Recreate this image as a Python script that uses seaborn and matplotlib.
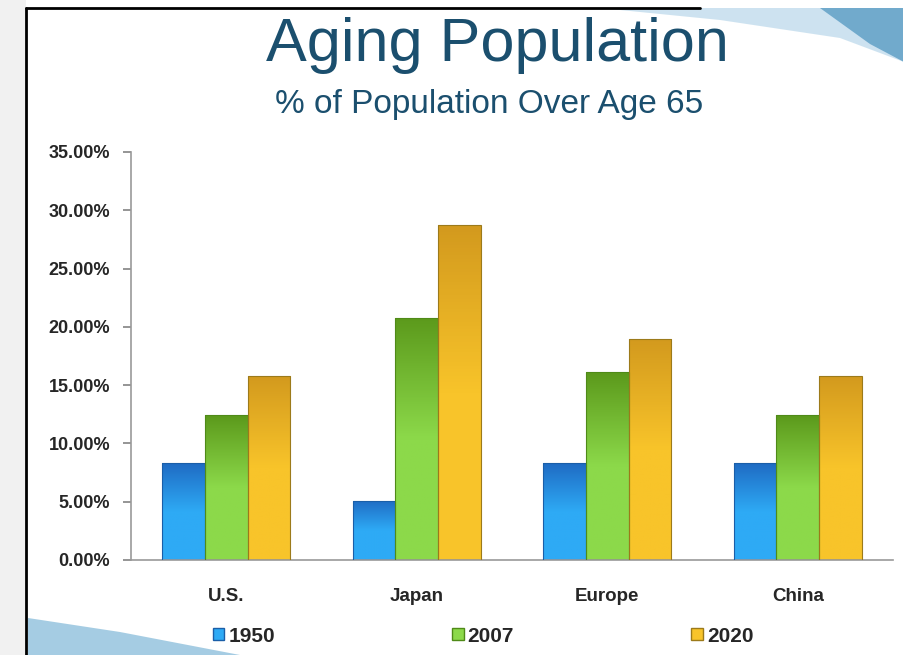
import numpy as np
import pandas as pd
import matplotlib
matplotlib.use("Agg")
import matplotlib.pyplot as plt
from matplotlib.patches import Polygon, Patch
from matplotlib.colors import LinearSegmentedColormap
import seaborn as sns

regions = ["U.S.", "Japan", "Europe", "China"]
years = ["1950", "2007", "2020"]
pct_1950 = [8.3, 5.1, 8.3, 8.3]
pct_2007 = [12.4, 20.8, 16.1, 12.4]
pct_2020 = [15.8, 28.7, 19.0, 15.8]

df = pd.DataFrame({
    "region": regions * 3,
    "year": [y for y in years for _ in regions],
    "pct": pct_1950 + pct_2007 + pct_2020,
})

# top colour / bottom colour for each series
grad = {
    "1950": ("#1f6cc4", "#2eaaf5"),
    "2007": ("#5c9a1c", "#8cd94a"),
    "2020": ("#d39a1e", "#f8c42a"),
}
edge = {"1950": "#1a5ea8", "2007": "#4f8a18", "2020": "#9c7a1a"}

sns.set_theme(style="white")
plt.rcParams["font.family"] = ["Liberation Sans", "DejaVu Sans"]

fig = plt.figure(figsize=(9.04, 6.55), dpi=100)
fig.patch.set_facecolor("white")

# slide decoration
fig.patches.append(plt.Rectangle((0, 0), 26 / 904, 1, transform=fig.transFigure,
                                 facecolor="#f1f1f1", edgecolor="none", zorder=0))
fig.patches.append(Polygon([(600 / 904, 1 - 8 / 655), (1, 1 - 8 / 655), (1, 1 - 62 / 655),
                            (840 / 904, 1 - 38 / 655), (720 / 904, 1 - 20 / 655)],
                           closed=True, transform=fig.transFigure,
                           facecolor="#b9d7ea", edgecolor="none", alpha=0.7, zorder=0))
fig.patches.append(Polygon([(820 / 904, 1 - 8 / 655), (1, 1 - 8 / 655), (1, 1 - 62 / 655),
                            (870 / 904, 1 - 44 / 655)],
                           closed=True, transform=fig.transFigure,
                           facecolor="#5a9cc4", edgecolor="none", alpha=0.8, zorder=0))
fig.patches.append(Polygon([(28 / 904, 1 - 618 / 655), (120 / 904, 1 - 632 / 655),
                            (240 / 904, 0), (28 / 904, 0)],
                           closed=True, transform=fig.transFigure,
                           facecolor="#8fc0dc", edgecolor="none", alpha=0.8, zorder=0))
fig.add_artist(plt.Line2D([26 / 904, 26 / 904], [0, 1 - 8 / 655], transform=fig.transFigure,
                          color="black", lw=2))
fig.add_artist(plt.Line2D([26 / 904, 700 / 904], [1 - 8 / 655, 1 - 8 / 655],
                          transform=fig.transFigure, color="black", lw=2))

ax = fig.add_axes([131 / 904, 1 - 560 / 655, (893 - 131) / 904, (560 - 152) / 655])
ax.set_facecolor("none")

sns.barplot(data=df, x="region", y="pct", hue="year", hue_order=years,
            order=regions, width=0.67, gap=0, ax=ax, legend=False,
            palette=[grad[y][1] for y in years], saturation=1)

# paint vertical gradients into each bar
for container, yr in zip(ax.containers, years):
    cmap = LinearSegmentedColormap.from_list(yr, [grad[yr][1], grad[yr][1], grad[yr][0]])
    for bar in container:
        bar.set_edgecolor(edge[yr])
        bar.set_linewidth(0.8)
        x0, y0 = bar.get_x(), bar.get_y()
        w, h = bar.get_width(), bar.get_height()
        img = ax.imshow(np.linspace(0, 1, 100).reshape(-1, 1), cmap=cmap, aspect="auto",
                        extent=(x0, x0 + w, y0, y0 + h), origin="lower", zorder=2)
        img.set_clip_path(bar)
        bar.set_zorder(3)
        bar.set_facecolor("none")

ax.set_xlim(-0.5, 3.5)
ax.set_ylim(0, 35)
ax.set_yticks(np.arange(0, 36, 5))
ax.set_yticklabels([f"{v:.2f}%" for v in np.arange(0, 36, 5)], fontsize=13, fontweight="bold")
ax.set_xticks(range(4))
ax.set_xticklabels(regions, fontsize=13.5, fontweight="bold")
ax.set_xticks(np.arange(-0.5, 4, 1), minor=True)
ax.tick_params(axis="x", which="major", length=0, pad=20)
ax.tick_params(axis="x", which="minor", length=6, color="#888888", direction="out")
ax.tick_params(axis="y", length=6, color="#888888", direction="out", left=True, pad=9)
ax.set_xlabel("")
ax.set_ylabel("")
for s in ["top", "right"]:
    ax.spines[s].set_visible(False)
for s in ["left", "bottom"]:
    ax.spines[s].set_color("#999999")
    ax.spines[s].set_linewidth(1.2)

handles = [Patch(facecolor=grad[y][1], edgecolor=edge[y]) for y in years]
leg = fig.legend(handles, years, loc="center", bbox_to_anchor=(483 / 904, 1 - 636 / 655),
                 ncol=3, frameon=False, columnspacing=8.5, handlelength=0.55,
                 handleheight=0.55, handletextpad=0.2,
                 prop={"weight": "bold", "size": 15})

fig.text(497 / 904, 1 - 46 / 655, "Aging Population", ha="center", va="center",
         fontsize=44, color="#1b4f6e")
fig.text(489 / 904, 1 - 105 / 655, "% of Population Over Age 65", ha="center", va="center",
         fontsize=24, color="#1b4f6e")

fig.savefig("out.png", dpi=100)
